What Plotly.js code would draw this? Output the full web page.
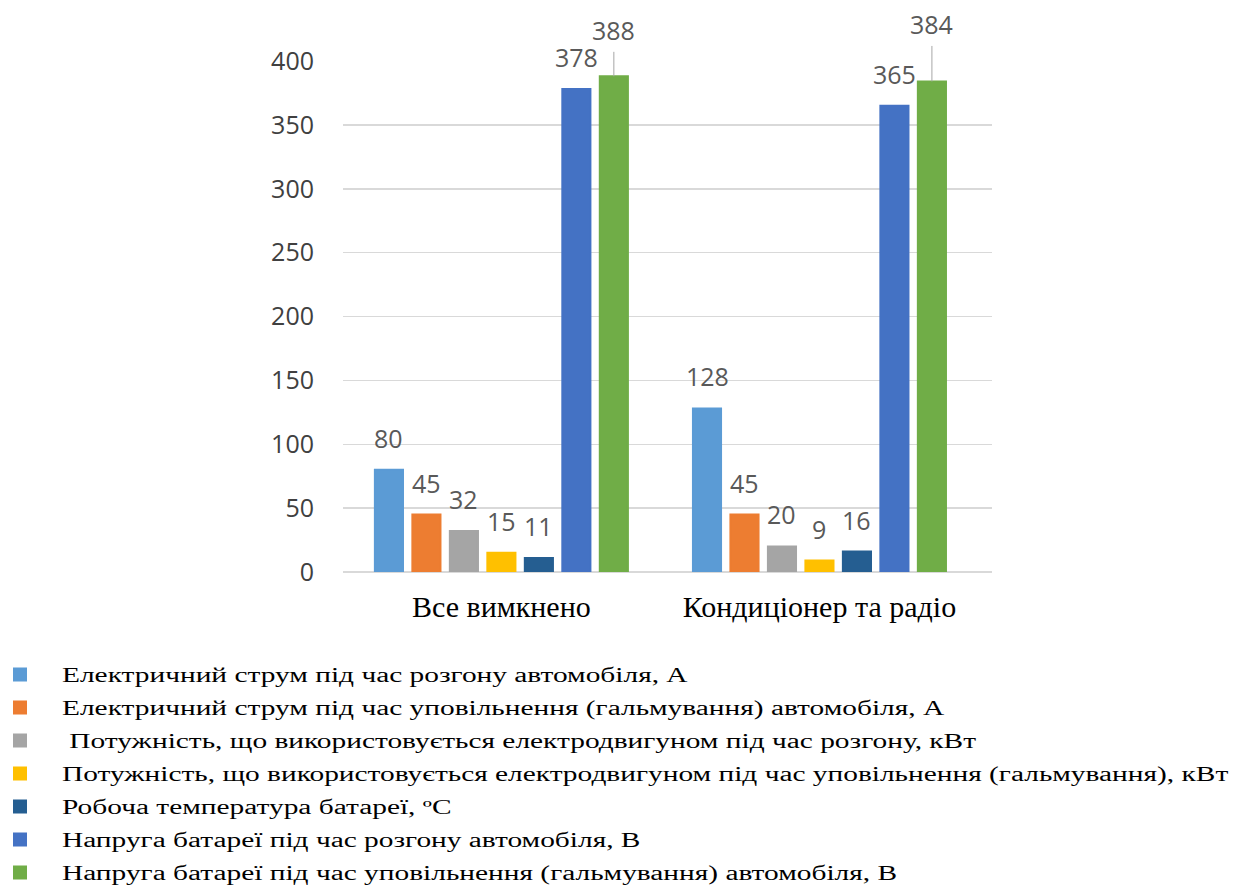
<!DOCTYPE html>
<html>
<head>
<meta charset="utf-8">
<script src="https://cdn.plot.ly/plotly-3.0.1.min.js"></script>
<style>
  html, body { margin: 0; padding: 0; background: #ffffff; }
  #chart { width: 1237px; height: 890px; }
  /* wide legend lettering, stretched from the left edge of each entry */
  text.legendtext {
    transform-box: fill-box;
    transform-origin: 0 50%;
    transform: translateX(22px) scaleX(1.47);
  }
  /* let the shifted entries run to the right edge of the page */
  #chart g.scrollbox { clip-path: none; }
</style>
</head>
<body>
<div id="chart"></div>
<script>
// Operating modes on the category axis
const categories = ['Все вимкнено', 'Кондиціонер та радіо'];

// Measured parameters, one array per series (values for each mode)
const seriesNames = [
  'Електричний струм під час розгону автомобіля, А',
  'Електричний струм під час уповільнення (гальмування) автомобіля, А',
  ' Потужність, що використовується електродвигуном під час розгону, кВт',
  'Потужність, що використовується електродвигуном під час уповільнення (гальмування), кВт',
  'Робоча температура батареї, ºС',
  'Напруга батареї під час розгону автомобіля, В',
  'Напруга батареї під час уповільнення (гальмування) автомобіля, В'
];
const currentAccel = [80, 128];
const currentBrake = [45, 45];
const powerAccel = [32, 20];
const powerBrake = [15, 9];
const batteryTemp = [11, 16];
const voltageAccel = [378, 365];
const voltageBrake = [388, 384];

const seriesValues = [currentAccel, currentBrake, powerAccel, powerBrake, batteryTemp, voltageAccel, voltageBrake];
const seriesColors = ['#5B9BD5', '#ED7D31', '#A5A5A5', '#FFC000', '#255E91', '#4472C4', '#70AD47'];

const catIdx = categories.map((c, i) => i);
const BARGAP = 0.175;
const BARGROUPGAP = 0.25;
const nSeries = seriesValues.length;

const traces = seriesValues.map((vals, i) => ({
  type: 'bar',
  name: seriesNames[i],
  x: catIdx,
  y: vals,
  marker: { color: seriesColors[i], line: { color: seriesColors[i], width: 2 } },
  legendgroup: 'g' + i,
  hoverinfo: 'name+y'
}));

// Value labels above each bar, placed at the bar's slot within its group
const groupWidth = 1 - BARGAP;
const slot = groupWidth / nSeries;
const labelFont = { family: 'Open Sans, sans-serif', size: 25, color: '#595959' };
const annotations = [];
seriesValues.forEach((vals, i) => {
  const offset = -groupWidth / 2 + slot * (i + 0.5);
  vals.forEach((v, j) => {
    const leader = (i === nSeries - 1);
    const a = {
      xref: 'x', yref: 'y',
      x: j + offset, y: v,
      text: String(v),
      font: labelFont
    };
    if (leader) {
      Object.assign(a, {
        showarrow: true, arrowhead: 0, arrowwidth: 1, arrowcolor: '#a6a6a6',
        ax: 0, ay: j === 0 ? -46 : -57, standoff: 0, borderpad: 4
      });
    } else {
      Object.assign(a, { showarrow: false, yanchor: 'middle', yshift: 32 });
    }
    annotations.push(a);
  });
});

const layout = {
  width: 1237,
  height: 890,
  margin: { l: 343, r: 245, t: 61, b: 318, pad: 0, autoexpand: false },
  paper_bgcolor: '#ffffff',
  plot_bgcolor: '#ffffff',
  barmode: 'group',
  bargap: BARGAP,
  bargroupgap: BARGROUPGAP,
  showlegend: true,
  xaxis: {
    range: [-0.498, 1.5425],
    tickvals: catIdx,
    ticktext: categories,
    ticks: '',
    showgrid: false,
    zeroline: false,
    showline: false,
    automargin: false,
    ticklabelstandoff: 14,
    tickfont: { family: 'Liberation Serif, Times New Roman, serif', size: 30, color: '#000000' }
  },
  yaxis: {
    range: [0, 400],
    tickvals: [0, 50, 100, 150, 200, 250, 300, 350, 400],
    ticks: '',
    showgrid: true,
    gridcolor: '#d9d9d9',
    gridwidth: 1.5,
    zeroline: true,
    zerolinecolor: '#d9d9d9',
    zerolinewidth: 1.5,
    showline: false,
    automargin: false,
    ticklabelstandoff: 28,
    tickfont: { family: 'Open Sans, sans-serif', size: 25, color: '#404040' }
  },
  legend: {
    xref: 'container', yref: 'container',
    x: 0, y: 1 - 655 / 890,
    xanchor: 'left', yanchor: 'top',
    orientation: 'v',
    traceorder: 'grouped',
    itemwidth: 30,
    tracegroupgap: 4,
    bgcolor: 'rgba(0,0,0,0)',
    font: { family: 'Liberation Serif, Times New Roman, serif', size: 20, color: '#000000' }
  },
  annotations: annotations
};

Plotly.newPlot('chart', traces, layout, { displayModeBar: false, staticPlot: true });
</script>
</body>
</html>
